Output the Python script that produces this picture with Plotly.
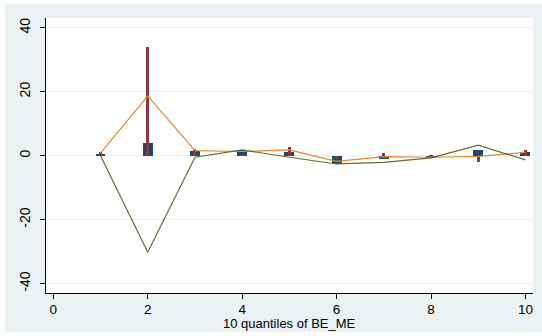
import plotly.graph_objects as go

quantiles = [1, 2, 3, 4, 5, 6, 7, 8, 9, 10]
blue_bars = [0.3, 4.0, 1.5, 1.8, 1.3, -2.6, -1.0, -0.7, 1.9, 1.1]
red_spikes = [1.0, 34.0, 2.1, 0.3, 2.6, -1.0, 0.8, -0.3, -2.1, 1.8]
orange_line = [0.8, 18.7, 1.6, 1.3, 1.8, -1.8, -0.3, -0.5, -0.2, 1.0]
green_line = [0.0, -30.2, -0.5, 1.8, -0.5, -2.6, -2.1, -0.7, 3.3, -1.3]
x_ticks = [0, 2, 4, 6, 8, 10]
y_ticks = [-40, -20, 0, 20, 40]
y_tick_labels = ["-40", "-20", "0", "20", "40"]
x_title = "10 quantiles of BE_ME"

W, H = 542, 336
L, R, T, B = 46, 9, 18, 43
pw, ph = W - L - R, H - T - B

def px(xp):
    return (xp - L) / pw

def py(yp):
    return (H - B - yp) / ph

BG = "#eaf2f3"
FONT = "Liberation Sans Narrow, Arial Narrow, Liberation Sans, Arial, sans-serif"

fig = go.Figure()
fig.add_trace(go.Bar(x=quantiles, y=blue_bars, width=0.21, marker=dict(color="#1a476f", line=dict(width=0)), showlegend=False))
fig.add_trace(go.Bar(x=quantiles, y=red_spikes, width=0.065, marker=dict(color="#90353b", line=dict(width=0)), showlegend=False))
fig.add_trace(go.Scatter(x=quantiles, y=orange_line, mode="lines", line=dict(color="#e8862a", width=1.2), showlegend=False))
fig.add_trace(go.Scatter(x=quantiles, y=green_line, mode="lines", line=dict(color="#55752f", width=1.2), showlegend=False))

shapes = [
    dict(type="rect", xref="paper", yref="paper", x0=px(0), x1=px(5), y0=py(H), y1=py(0), fillcolor="white", line=dict(width=0), layer="above"),
    dict(type="rect", xref="paper", yref="paper", x0=px(0), x1=px(W), y0=py(4), y1=py(0), fillcolor="white", line=dict(width=0), layer="above"),
    dict(type="rect", xref="paper", yref="paper", x0=px(0), x1=px(W), y0=py(H), y1=py(332), fillcolor="white", line=dict(width=0), layer="above"),
]

fig.update_layout(
    width=W, height=H,
    margin=dict(l=L, r=R, t=T, b=B, pad=0),
    paper_bgcolor=BG, plot_bgcolor="white",
    barmode="overlay", bargap=0,
    shapes=shapes,
    font=dict(family=FONT, size=14, color="black"),
    annotations=[dict(text=x_title, xref="paper", yref="paper", x=0.5, y=py(333), xanchor="center",
                      yanchor="bottom", showarrow=False, font=dict(size=13))],
    xaxis=dict(range=[-0.155, 10.16], tickvals=x_ticks, ticks="outside", ticklen=5, tickcolor="black",
               showline=True, linecolor="black", linewidth=1, showgrid=False, zeroline=False,
               tickfont=dict(size=13.5), ticklabelstandoff=-1),
    yaxis=dict(range=[-42.95, 43.05], tickvals=y_ticks, ticktext=y_tick_labels, ticks="outside", ticklen=5,
               tickcolor="black", showline=True, linecolor="black", linewidth=1, showgrid=True,
               gridcolor=BG, gridwidth=1, zeroline=False, tickangle=-90, tickfont=dict(size=14),
               ticklabelstandoff=4),
)

fig.write_html("out.html")
